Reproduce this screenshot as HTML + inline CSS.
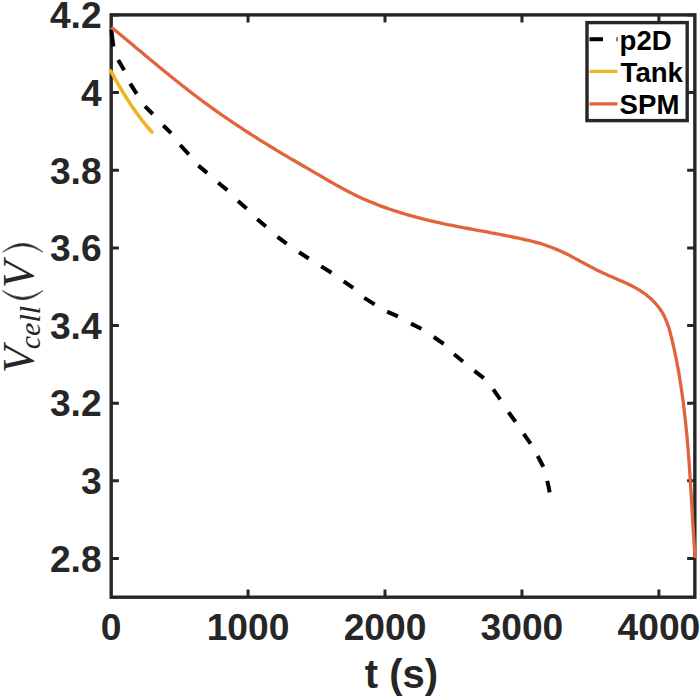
<!DOCTYPE html><html><head><meta charset="utf-8"><style>html,body{margin:0;padding:0;background:#fff;width:700px;height:697px;overflow:hidden}svg{display:block}</style></head><body>
<svg width="700" height="697" viewBox="0 0 700 697">
<rect width="700" height="697" fill="#fff"/>
<path d="M248.05 597.2V589.5M248.05 14.9V22.6M385.00 597.2V589.5M385.00 14.9V22.6M521.95 597.2V589.5M521.95 14.9V22.6M658.90 597.2V589.5M658.90 14.9V22.6M111.2 14.95H118.9M694.85 14.95H687.15M111.2 92.60H118.9M694.85 92.60H687.15M111.2 170.25H118.9M694.85 170.25H687.15M111.2 247.90H118.9M694.85 247.90H687.15M111.2 325.55H118.9M694.85 325.55H687.15M111.2 403.20H118.9M694.85 403.20H687.15M111.2 480.85H118.9M694.85 480.85H687.15M111.2 558.50H118.9M694.85 558.50H687.15" stroke="#262626" stroke-width="3" fill="none"/>
<rect x="111.2" y="14.9" width="583.65" height="582.3000000000001" fill="none" stroke="#262626" stroke-width="3.4"/>
<polyline points="110.6,70.8 111.2,71.9 111.9,73.0 112.5,74.1 113.1,75.2 113.7,76.3 114.3,77.4 114.9,78.5 115.5,79.5 116.1,80.6 116.8,81.7 117.4,82.8 118.0,83.9 118.6,85.0 119.3,86.1 119.9,87.1 120.6,88.2 121.2,89.3 121.8,90.4 122.5,91.5 123.1,92.5 123.8,93.6 124.5,94.7 125.1,95.7 125.8,96.8 126.4,97.9 127.1,98.9 127.8,100.0 128.5,101.0 129.2,102.1 129.8,103.1 130.5,104.2 131.2,105.2 131.9,106.3 132.6,107.3 133.4,108.4 134.1,109.4 134.8,110.4 135.5,111.4 136.2,112.5 137.0,113.5 137.7,114.5 138.5,115.5 139.2,116.5 140.0,117.5 140.7,118.5 141.5,119.5 142.2,120.5 143.0,121.5 143.8,122.5 144.6,123.5 145.4,124.4 146.2,125.4 147.0,126.4 147.8,127.3 148.6,128.3 149.4,129.2 150.3,130.2 151.1,131.1 151.9,132.1" fill="none" stroke="#EDB524" stroke-width="3.6" stroke-linecap="round" stroke-linejoin="round"/>
<g fill="none" stroke="#000" stroke-width="4">
<polyline points="111.3,29.7 112.3,38.0 113.4,46.6"/>
<polyline points="118.2,59.9 124.2,70.2"/>
<polyline points="130.2,83.6 136.7,93.9"/>
<polyline points="145.0,106.3 152.8,114.0"/>
<polyline points="163.3,125.5 171.1,133.2"/>
<polyline points="180.2,145.0 188.8,154.3"/>
<polyline points="198.4,165.6 207.1,172.9"/>
<polyline points="218.2,182.8 227.3,190.1"/>
<polyline points="238.0,200.9 246.6,208.6"/>
<polyline points="257.3,219.2 265.9,226.5"/>
<polyline points="277.5,236.8 286.6,243.7"/>
<polyline points="299.1,252.3 308.7,258.5"/>
<polyline points="321.2,266.4 331.5,272.8"/>
<polyline points="343.7,281.4 353.2,287.9"/>
<polyline points="364.3,297.9 374.6,304.4"/>
<polyline points="387.1,311.7 397.9,316.4"/>
<polyline points="411.0,323.6 421.4,328.8"/>
<polyline points="433.8,337.0 443.7,343.8"/>
<polyline points="454.1,354.2 463.0,361.5"/>
<polyline points="474.4,370.9 483.8,378.2"/>
<polyline points="493.3,389.4 500.2,399.3"/>
<polyline points="508.6,412.3 515.5,421.8"/>
<polyline points="523.7,433.8 530.6,443.7"/>
<polyline points="537.7,456.0 543.3,466.7"/>
<polyline points="547.2,480.9 548.8,487.6 549.6,492.3"/>
</g>
<polyline points="111.3,27.3 113.6,29.1 115.9,31.0 118.2,32.8 120.4,34.7 122.7,36.6 125.0,38.5 127.2,40.3 129.5,42.2 131.8,44.1 134.0,46.0 136.3,47.9 138.5,49.7 140.8,51.6 143.1,53.5 145.3,55.4 147.6,57.3 149.8,59.2 152.1,61.0 154.4,62.9 156.6,64.8 158.9,66.7 161.2,68.5 163.5,70.4 165.7,72.3 168.0,74.1 170.3,76.0 172.6,77.8 174.9,79.7 177.2,81.5 179.5,83.3 181.8,85.2 184.1,87.0 186.4,88.8 188.7,90.6 191.1,92.4 193.4,94.2 195.7,96.0 198.1,97.7 200.4,99.5 202.8,101.3 205.2,103.0 207.5,104.7 209.9,106.5 212.3,108.2 214.7,109.9 217.1,111.6 219.5,113.3 221.9,115.0 224.3,116.7 226.8,118.3 229.2,120.0 231.6,121.6 234.1,123.3 236.5,124.9 239.0,126.5 241.4,128.2 243.9,129.8 246.3,131.4 248.8,133.0 251.3,134.6 253.8,136.1 256.3,137.7 258.7,139.3 261.2,140.8 263.7,142.4 266.2,143.9 268.7,145.5 271.3,147.0 273.8,148.5 276.3,150.1 278.8,151.6 281.3,153.1 283.9,154.6 286.4,156.1 288.9,157.6 291.5,159.1 294.0,160.5 296.6,162.0 299.1,163.5 301.6,165.0 304.2,166.5 306.7,167.9 309.3,169.4 311.8,170.9 314.4,172.4 316.9,173.9 319.4,175.3 322.0,176.8 324.5,178.3 327.1,179.8 329.6,181.3 332.2,182.7 334.7,184.2 337.3,185.6 339.9,187.0 342.5,188.4 345.0,189.8 347.6,191.2 350.2,192.5 352.9,193.9 355.5,195.2 358.2,196.4 360.8,197.7 363.5,198.9 366.2,200.1 368.9,201.2 371.6,202.3 374.3,203.4 377.0,204.5 379.8,205.6 382.5,206.6 385.3,207.6 388.1,208.6 390.9,209.5 393.7,210.5 396.5,211.4 399.3,212.3 402.1,213.1 404.9,214.0 407.7,214.8 410.6,215.6 413.4,216.4 416.3,217.2 419.1,217.9 422.0,218.7 424.8,219.4 427.7,220.1 430.6,220.8 433.4,221.4 436.3,222.1 439.2,222.7 442.0,223.3 444.9,224.0 447.8,224.6 450.7,225.1 453.6,225.7 456.4,226.3 459.3,226.9 462.2,227.4 465.1,228.0 468.0,228.5 470.9,229.0 473.8,229.6 476.6,230.1 479.5,230.7 482.4,231.2 485.3,231.7 488.2,232.2 491.1,232.8 494.0,233.3 496.9,233.9 499.8,234.4 502.6,235.0 505.5,235.5 508.4,236.1 511.3,236.7 514.2,237.3 517.1,237.9 520.0,238.5 522.8,239.1 525.7,239.8 528.6,240.4 531.5,241.1 534.3,241.8 537.2,242.6 540.0,243.4 542.8,244.3 545.6,245.2 548.4,246.2 551.1,247.2 553.9,248.2 556.6,249.4 559.3,250.5 561.9,251.7 564.6,253.0 567.2,254.3 569.8,255.6 572.4,257.0 575.0,258.4 577.6,259.8 580.2,261.2 582.8,262.6 585.4,264.0 588.0,265.4 590.6,266.8 593.2,268.1 595.8,269.5 598.4,270.8 601.1,272.0 603.7,273.3 606.4,274.5 609.1,275.7 611.8,276.8 614.5,278.0 617.2,279.2 619.9,280.4 622.6,281.6 625.3,282.8 628.0,284.0 630.7,285.3 633.4,286.7 636.0,288.1 638.5,289.6 641.0,291.1 643.5,292.8 645.9,294.5 648.1,296.4 650.4,298.3 652.5,300.3 654.5,302.3 656.4,304.5 658.3,306.8 660.0,309.1 661.6,311.5 663.1,313.9 664.4,316.5 665.6,319.1 666.7,321.8 667.7,324.5 668.7,327.3 669.5,330.1 670.3,333.0 671.0,335.9 671.8,338.7 672.4,341.6 673.1,344.5 673.8,347.4 674.4,350.3 675.0,353.2 675.6,356.1 676.2,359.0 676.8,361.9 677.3,364.8 677.9,367.7 678.4,370.6 678.9,373.5 679.4,376.4 679.9,379.3 680.3,382.2 680.8,385.1 681.2,388.0 681.7,390.9 682.1,393.9 682.5,396.8 682.9,399.7 683.3,402.6 683.6,405.5 684.0,408.4 684.3,411.4 684.7,414.3 685.0,417.2 685.3,420.1 685.6,423.0 685.9,426.0 686.2,428.9 686.5,431.8 686.8,434.7 687.1,437.7 687.3,440.6 687.6,443.5 687.8,446.5 688.1,449.4 688.3,452.3 688.5,455.2 688.8,458.2 689.0,461.1 689.2,464.0 689.4,467.0 689.6,469.9 689.8,472.8 690.0,475.8 690.2,478.7 690.4,481.6 690.5,484.6 690.7,487.5 690.9,490.4 691.1,493.4 691.3,496.3 691.4,499.3 691.6,502.2 691.8,505.1 692.0,508.1 692.1,511.0 692.3,513.9 692.5,516.9 692.6,519.8 692.8,522.8 693.0,525.7 693.2,528.6 693.4,531.6 693.5,534.5 693.7,537.4 693.9,540.4 694.1,543.3 694.3,546.2 694.5,549.2 694.7,552.1 694.9,555.1 695.1,558.0" fill="none" stroke="#E2643C" stroke-width="3.3" stroke-linejoin="round"/>
<g font-family="Liberation Sans" font-weight="bold" font-size="37.2" fill="#262626">
<text x="101.6" y="28.20" text-anchor="end">4.2</text>
<text x="101.6" y="105.85" text-anchor="end">4</text>
<text x="101.6" y="183.50" text-anchor="end">3.8</text>
<text x="101.6" y="261.15" text-anchor="end">3.6</text>
<text x="101.6" y="338.80" text-anchor="end">3.4</text>
<text x="101.6" y="416.45" text-anchor="end">3.2</text>
<text x="101.6" y="494.10" text-anchor="end">3</text>
<text x="101.6" y="571.75" text-anchor="end">2.8</text>
<text x="111.1" y="640.3" text-anchor="middle">0</text>
<text x="248.0" y="640.3" text-anchor="middle">1000</text>
<text x="385.0" y="640.3" text-anchor="middle">2000</text>
<text x="521.9" y="640.3" text-anchor="middle">3000</text>
<text x="658.9" y="640.3" text-anchor="middle">4000</text>
</g>
<text x="401.5" y="688" text-anchor="middle" font-family="Liberation Sans" font-weight="bold" font-size="40" fill="#262626">t (s)</text>
<g transform="translate(0,372) rotate(-90)" font-family="Liberation Serif" fill="#262626"><text font-style="italic" font-size="44" x="-1" y="33.3">V</text><text font-style="italic" font-size="30" x="22.8" y="39.6">cell</text><text font-style="italic" font-size="44" x="84" y="33">V</text></g>
<path d="M2.3 290.6Q22.8 308.8 43 290.6Q22.8 304.2 2.3 290.6Z" fill="#262626" stroke="#262626" stroke-width="0.6"/>
<path d="M2.6 252.1Q22.7 234.9 43 252.1Q22.7 239.3 2.6 252.1Z" fill="#262626" stroke="#262626" stroke-width="0.6"/>
<rect x="587" y="22.6" width="100.2" height="98" fill="#fff" stroke="#262626" stroke-width="3.4"/>
<line x1="589.5" y1="39.2" x2="603" y2="39.2" stroke="#000" stroke-width="4"/>
<line x1="616.5" y1="39.2" x2="617.5" y2="39.2" stroke="#000" stroke-width="4"/>
<line x1="589.5" y1="71.4" x2="617.5" y2="71.4" stroke="#EDB524" stroke-width="3.3"/>
<line x1="589.5" y1="103.9" x2="617.5" y2="103.9" stroke="#E2643C" stroke-width="3.3"/>
<g font-family="Liberation Sans" font-weight="bold" font-size="27.6" fill="#000">
<text x="619.6" y="49.8">p2D</text><text x="620.6" y="82">Tank</text><text x="619.6" y="113.8">SPM</text></g>
</svg></body></html>
